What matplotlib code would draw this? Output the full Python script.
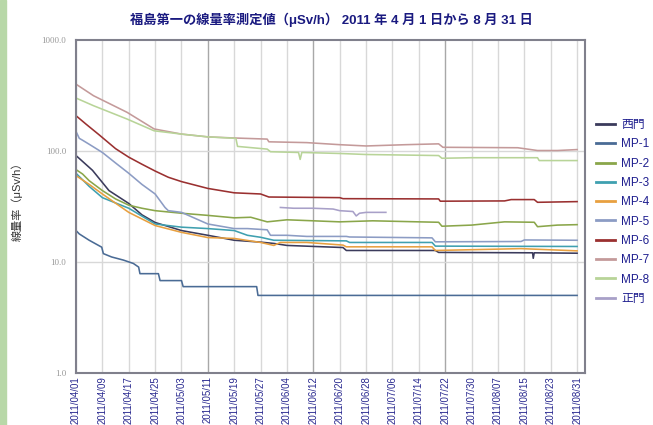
import numpy as np
import matplotlib
matplotlib.use("Agg")
import matplotlib.pyplot as plt
import matplotlib.dates as mdates
from matplotlib.patches import Rectangle
from datetime import datetime, timedelta

# days since 2011-04-01, values in uSv/h
d_west = [0, 5, 10, 16, 20, 24, 32, 40, 48, 56, 60, 64, 81, 82, 109, 110, 138.5, 138.7, 139, 152]
v_west = [91, 67, 44, 33.7, 26.6, 22.7, 19.2, 17.4, 15.7, 15.1, 14.7, 14.1, 13.5, 12.7, 12.7, 12.2, 12.1, 10.8, 12.1, 12.0]

d_mp1 = [0, 1, 4, 7.8, 8.3, 10.8, 14.4, 17.4, 19, 19.4, 25, 25.5, 32, 32.5, 54.8, 55.2, 152]
v_mp1 = [19.2, 17.9, 15.7, 13.6, 11.9, 11.1, 10.4, 9.7, 9.0, 7.85, 7.85, 6.8, 6.8, 6.0, 6.0, 5.0, 5.0]

d_mp2 = [0, 2, 4, 8, 12, 16, 20, 24, 32, 40, 48, 53, 58, 64, 72, 80, 90, 104, 110, 111, 120, 130, 139, 140, 146, 152]
v_mp2 = [68, 62, 54, 44, 37, 32.5, 30.5, 29, 27.5, 26.3, 25, 25.3, 23, 24, 23.5, 23, 23.5, 23, 22.8, 21, 21.5, 23, 22.8, 20.8, 21.5, 21.7]

d_mp3 = [0, 4, 8, 16, 24, 32, 40, 48, 52, 56, 60, 82, 83, 108, 109, 152]
v_mp3 = [63, 48, 38, 30.5, 22, 20.6, 20, 19.2, 17.4, 16.7, 15.7, 15.5, 15, 15, 13.9, 13.8]

d_mp4 = [0, 4, 8, 16, 24, 32, 40, 48, 56, 60, 62, 70, 81, 82, 108, 109, 125, 135, 152]
v_mp4 = [60, 50, 41, 28, 21.3, 18.5, 16.6, 16.3, 15, 14.1, 15, 15, 14.2, 13.7, 13.7, 12.7, 13, 13.2, 12.6]

d_mp5 = [0, 1, 2, 4, 8, 12, 16, 20, 24, 27, 28, 32, 40, 48, 52, 58, 59, 64, 70, 82, 83, 108, 109, 135, 136, 152]
v_mp5 = [150, 130, 125, 115, 97, 78, 63, 50, 41, 31, 29, 28, 22, 20, 20, 19.5, 17.4, 17.4, 17, 17, 16.8, 16.5, 15.2, 15.3, 15.8, 15.7]

d_mp6 = [0, 3, 7, 12, 16, 20, 24, 28, 32, 40, 48, 56, 58.5, 80, 81, 110, 110.5, 130, 132, 139, 140, 152]
v_mp6 = [208, 175, 140, 105, 88, 76, 66, 58, 53, 46, 42, 41, 38.5, 38, 37.2, 37, 35.3, 35.5, 36.5, 36.5, 34.5, 35]

d_mp7 = [0, 5.3, 15.5, 23.7, 32, 40, 48, 58, 58.5, 70, 80, 88, 100, 110, 111.3, 134, 140, 146, 152]
v_mp7 = [400, 315, 223, 158, 142, 134, 131, 128, 121, 119, 114, 111, 114, 116, 108, 107, 101, 101, 103]

d_mp8 = [0, 5.3, 15.5, 23.7, 32, 40, 48.5, 49, 58, 59, 67.5, 68, 68.5, 80, 88, 110, 111, 120, 140, 140.5, 152]
v_mp8 = [300, 256, 194, 152, 142, 134, 130, 110, 104, 98.5, 97, 84, 97, 95, 93, 91, 86, 87, 87, 82, 82]

d_main = [62, 66, 72, 78, 80, 84, 85, 86, 88, 94]
v_main = [31, 30.5, 30.5, 30, 29, 28.5, 26, 27.5, 28, 28]

series = [
    ("西門", d_west, v_west, "#3b3b5c"),
    ("MP-1", d_mp1, v_mp1, "#4a6b95"),
    ("MP-2", d_mp2, v_mp2, "#8aa64a"),
    ("MP-3", d_mp3, v_mp3, "#3fa0b0"),
    ("MP-4", d_mp4, v_mp4, "#e8a040"),
    ("MP-5", d_mp5, v_mp5, "#8c9cc4"),
    ("MP-6", d_mp6, v_mp6, "#9a3030"),
    ("MP-7", d_mp7, v_mp7, "#c49a9a"),
    ("MP-8", d_mp8, v_mp8, "#b8d498"),
    ("正門", d_main, v_main, "#a8a0c8"),
]

start = datetime(2011, 4, 1)
t0 = mdates.date2num(start)
tick_days = np.arange(0, 153, 8)
dark_days = [40, 72, 112]

fig = plt.figure(figsize=(6.53, 4.25), dpi=100)
fig.patches.append(Rectangle((0, 0), 6 / 653, 1, transform=fig.transFigure,
                             color="#b8d8a8", zorder=0))
ax = fig.add_axes([76 / 653, 1 - 373 / 425, 509 / 653, 333 / 425])

for name, d, v, c in series:
    ax.plot(t0 + np.array(d), v, color=c, lw=1.15, label=name)

ax.set_yscale("log")
ax.set_ylim(1, 1000)
ax.set_xlim(t0, t0 + 154.4)
ax.set_yticks([1, 10, 100, 1000])
ax.set_yticklabels(["1.0", "10.0", "100.0", "1000.0"], fontsize=6.5,
                   color="#999999", family="Liberation Serif")
ax.yaxis.set_minor_locator(matplotlib.ticker.NullLocator())
ax.set_xticks(t0 + tick_days)
ax.set_xticklabels([(start + timedelta(days=int(k))).strftime("%Y/%m/%d") for k in tick_days],
                   rotation=90, fontsize=7, color="#2a2a90", family="Liberation Sans",
                   va="top")
ax.tick_params(axis="x", length=0, pad=2)
ax.tick_params(axis="y", length=0, pad=7)

for k in tick_days:
    ax.axvline(t0 + k, color="#a8a8a8" if k in dark_days else "#d8d8d8", lw=1, zorder=0)
for y in [10, 100]:
    ax.axhline(y, color="#d8d8d8", lw=1, zorder=0)
for s in ax.spines.values():
    s.set_color("#80808c")
    s.set_linewidth(1.5)

fam = ["Liberation Sans", "Noto Sans CJK JP"]
fig.text(331 / 653, 1 - 20 / 425, "福島第一の線量率測定値（μSv/h） 2011 年 4 月 1 日から 8 月 31 日",
         ha="center", va="center", fontsize=9.5, fontweight="bold", color="#1a1a80", family=fam)
fig.text(17 / 653, 1 - 199 / 425, "線量率（μSv/h）", rotation=90, ha="center", va="center",
         fontsize=8, color="#333333", family=fam)

leg = ax.legend(loc="upper left", bbox_to_anchor=(596 / 653, 1 - 119 / 425),
                bbox_transform=fig.transFigure, frameon=False,
                borderpad=0, borderaxespad=0,
                handlelength=1.6, handletextpad=0.55, labelspacing=0.62,
                prop={"family": fam, "size": 8.5})
for t in leg.get_texts():
    t.set_color("#1f1f8f")
for l in leg.get_lines():
    l.set_linewidth(2)

fig.savefig("out.png", dpi=100)
